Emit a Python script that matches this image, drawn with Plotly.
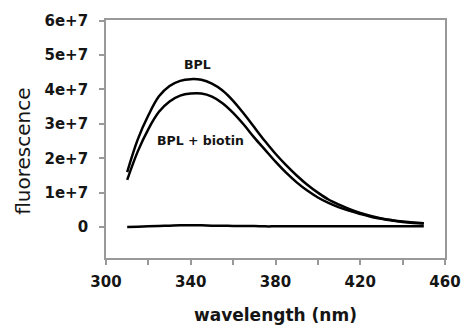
import plotly.graph_objects as go

wavelength = [310, 315, 320, 325, 330, 335, 340, 345, 350, 355, 360, 365, 370, 375, 380,
              385, 390, 395, 400, 405, 410, 415, 420, 425, 430, 435, 440, 445, 450]
bpl = [1.6, 2.55, 3.25, 3.8, 4.1, 4.25, 4.3, 4.28, 4.17, 3.97, 3.67, 3.3, 2.9, 2.5, 2.13,
       1.8, 1.5, 1.23, 1.0, 0.8, 0.65, 0.52, 0.41, 0.32, 0.25, 0.2, 0.16, 0.13, 0.11]
bpl_biotin = [1.37, 2.2, 2.85, 3.35, 3.65, 3.82, 3.88, 3.88, 3.79, 3.6, 3.32, 2.98, 2.6, 2.25, 1.9,
              1.58, 1.3, 1.06, 0.86, 0.7, 0.57, 0.47, 0.38, 0.3, 0.24, 0.19, 0.15, 0.12, 0.1]
baseline = [0.0, 0.01, 0.02, 0.03, 0.04, 0.05, 0.05, 0.05, 0.04, 0.04, 0.03, 0.03, 0.03, 0.02, 0.02,
            0.02, 0.02, 0.02, 0.02, 0.02, 0.02, 0.02, 0.02, 0.02, 0.02, 0.02, 0.02, 0.02, 0.02]
scale = 1e7

x_tickvals = [300, 320, 340, 360, 380, 400, 420, 440, 460]
x_ticktext = ["300", "", "340", "", "380", "", "420", "", "460"]
y_tickvals = [0, 1e7, 2e7, 3e7, 4e7, 5e7, 6e7]
y_ticktext = ["0", "1e+7", "2e+7", "3e+7", "4e+7", "5e+7", "6e+7"]

fig = go.Figure()
for series in (bpl, bpl_biotin, baseline):
    fig.add_trace(go.Scatter(
        x=wavelength, y=[v * scale for v in series], mode="lines",
        line=dict(color="black", width=2.5, shape="spline"),
        showlegend=False, hoverinfo="skip"))

font_family = "DejaVu Sans, sans-serif"
text_color = "#151515"
fig.add_annotation(x=343.4, y=4.74e7, text="<b>BPL</b>", showarrow=False,
                   font=dict(family=font_family, size=12.5, color=text_color))
fig.add_annotation(x=344.4, y=2.51e7, text="<b>BPL + biotin</b>", showarrow=False,
                   font=dict(family=font_family, size=12.5, color=text_color))

# axis titles as paper-positioned annotations
fig.add_annotation(x=-0.245, y=0.45, xref="paper", yref="paper", text="fluorescence",
                   textangle=-90, showarrow=False, xanchor="center", yanchor="middle",
                   font=dict(family=font_family, size=20, color=text_color))
fig.add_annotation(x=0.5, y=-0.24, xref="paper", yref="paper", text="<b>wavelength (nm)</b>",
                   showarrow=False, xanchor="center", yanchor="middle",
                   font=dict(family=font_family, size=17, color=text_color))

axis_common = dict(showline=True, linecolor="#999999", linewidth=1.8, mirror=True,
                   showgrid=False, zeroline=False, ticks="outside", ticklen=5,
                   tickcolor="#999999", tickwidth=1.5, automargin=False)

fig.update_xaxes(range=[300, 460], tickvals=x_tickvals, ticktext=x_ticktext,
                 ticklabelstandoff=4,
                 tickfont=dict(family=font_family, size=15, color=text_color, weight="bold"),
                 **axis_common)
fig.update_yaxes(range=[-0.9e7, 6.02e7], tickvals=y_tickvals, ticktext=y_ticktext,
                 ticklabelstandoff=8,
                 tickfont=dict(family=font_family, size=15, color=text_color, weight="bold"),
                 **axis_common)

fig.update_layout(width=462, height=325, margin=dict(l=106, r=17, t=20, b=67),
                  plot_bgcolor="white", paper_bgcolor="white")

fig.write_html("out.html", config={"displayModeBar": False},
               post_script="document.body.style.margin='0';document.body.style.padding='0';")
